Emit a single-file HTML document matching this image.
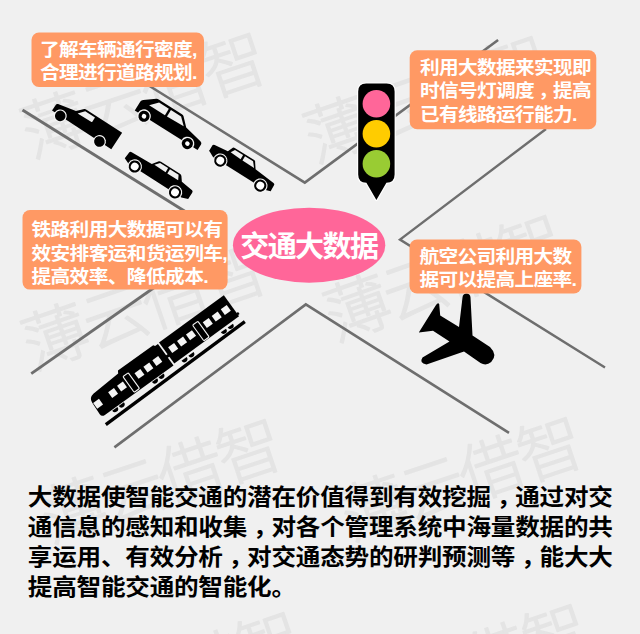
<!DOCTYPE html>
<html lang="zh-CN">
<head>
<meta charset="utf-8">
<title>交通大数据</title>
<style>
html,body{margin:0;padding:0;background:#f0f0f0;}
body{width:640px;height:634px;overflow:hidden;position:relative;}
svg{display:block;position:absolute;left:0;top:0;}
text{font-family:"Liberation Sans", "Noto Sans CJK SC", sans-serif;font-weight:700;}
.wm text{font-weight:300;fill:#e4e4e4;stroke:#e4e4e4;stroke-width:1.3px;stroke-linejoin:round;}
</style>
</head>
<body>
<svg width="640" height="634" viewBox="0 0 640 634">
<rect width="640" height="634" fill="#f0f0f0"/>

<g class="wm">
<text transform="translate(233.5,63.7) rotate(-18.5)" x="-221.5" y="24.7" font-size="65" letter-spacing="-2">薄云借智</text>
<text transform="translate(516,67) rotate(-19)" x="-221.5" y="24.7" font-size="65" letter-spacing="-2">薄云借智</text>
<text transform="translate(234,274) rotate(-19)" x="-221.5" y="24.7" font-size="65" letter-spacing="-2">薄云借智</text>
<text transform="translate(530,246) rotate(-19.5)" x="-215.5" y="24.7" font-size="65" letter-spacing="-4">薄云借智</text>
<text transform="translate(249,450) rotate(-18.5)" x="-218.5" y="24.7" font-size="65" letter-spacing="-3">薄云借智</text>
<text transform="translate(550,448) rotate(-18.5)" x="-218.5" y="24.7" font-size="65" letter-spacing="-3">薄云借智</text>
<text transform="translate(268,643) rotate(-19)" x="-218.5" y="24.7" font-size="65" letter-spacing="-3">薄云借智</text>
<text transform="translate(555,635) rotate(-19)" x="-218.5" y="24.7" font-size="65" letter-spacing="-3">薄云借智</text>
</g>
<g fill="none" stroke="#6e6e6e" stroke-linejoin="miter">
<polyline stroke-width="2.6" points="148.7,85.5 304.8,182.6 498.1,40"/>
<polyline stroke-width="2.4" points="546,129 400,239.6 605,367.5"/>
<polyline stroke-width="2.6" points="114.4,447.4 305.8,304.4 509,432.9"/>
<polyline stroke-width="3" points="22.5,110 190,214.6"/>
<polyline stroke-width="2.9" points="156,286.2 31.25,373.6"/>
</g>
<g transform="translate(60.25,115.9) rotate(33.2)"><path d="M-9.8,0 L-9.8,-7 Q-9.8,-8.4 -8.3,-8.7 L10.5,-12.6 L16.3,-18.8 Q17,-19.6 18.5,-19.6 L61,-19.8 L61,0 Z" fill="#000"/><path d="M13.2,-11.6 L18.4,-17.5 L30,-17.6 L30,-13 Q30,-12 29,-12 Z" fill="#f0f0f0"/><circle cx="0" cy="0" r="6.5" fill="#f4f4f4"/><circle cx="0" cy="0" r="5.3" fill="#000"/><circle cx="46.8" cy="0" r="6.5" fill="#f4f4f4"/><circle cx="46.8" cy="0" r="5.3" fill="#000"/></g>
<g transform="translate(144.0,116.25) rotate(32.2)"><path d="M-10.9,0 L-10.9,-10.5 Q-10.9,-12.3 -9.3,-13.3 L1.2,-21.3 Q2.2,-22 4,-22 L31,-22 Q32.6,-22 33.5,-21 L41.7,-13 L61,-9 Q63.3,-8.5 63.3,-6.5 L63.3,0 Z" fill="#000"/><polygon points="-1.5,-12 5.5,-19.6 17,-19.6 17.2,-12" fill="#f0f0f0"/><polygon points="19.5,-19.6 31.5,-19.6 39,-12.6 19.6,-12" fill="#f0f0f0"/><circle cx="0" cy="0" r="6.9" fill="#f4f4f4"/><circle cx="0" cy="0" r="5.6" fill="#000"/><circle cx="0" cy="0" r="2.3" fill="#fff"/><circle cx="51.3" cy="0" r="6.9" fill="#f4f4f4"/><circle cx="51.3" cy="0" r="5.6" fill="#000"/><circle cx="51.3" cy="0" r="2.3" fill="#fff"/></g>
<g transform="translate(134.75,166.5) rotate(32.7)"><path d="M-12.8,-1.5 L-7,0.9 L56,0.9 L62.5,-1.5 L62.5,-9 Q62.5,-10.8 61,-11 L47.9,-12.6 L44.4,-17.2 Q43.6,-18.2 42,-18.2 L19.5,-18.2 Q18,-18.2 17.5,-17.5 L13,-11.3 L-10.3,-10.4 Q-12,-10.3 -12.2,-9 Z" fill="#000"/><polygon points="15.6,-12 19.4,-16.7 28.9,-16.7 29.1,-11.8" fill="#f0f0f0"/><polygon points="31.1,-16.7 41.4,-16.7 44,-11.8 31.2,-11.7" fill="#f0f0f0"/><circle cx="0" cy="0" r="7.2" fill="#f4f4f4"/><circle cx="0" cy="0" r="6.1" fill="#000"/><circle cx="0" cy="0" r="3.9" fill="#fff"/><circle cx="47.85" cy="0" r="7.2" fill="#f4f4f4"/><circle cx="47.85" cy="0" r="6.1" fill="#000"/><circle cx="47.85" cy="0" r="3.9" fill="#fff"/></g>
<g transform="translate(220.25,160.6) rotate(32.0)"><path d="M-14.6,-2.5 L-8,0.9 L54,0.9 L59,-0.7 L50,-8 L-10,-8 Z" fill="#000"/><path d="M-14.6,-2.5 L-14.7,-8.8 Q-14.7,-10.2 -13,-10.3 L1.5,-12 L3.8,-17.6 Q4.2,-18.4 5.6,-18.4 L28.5,-18.4 Q30,-18.4 30.5,-17 L34.6,-11.3 L57,-9.3 Q58.6,-9.1 58.7,-7.5 L59,-0.7 Z" fill="#000"/><polygon points="4.4,-12.6 6.9,-16.8 16.4,-16.8 16.6,-11.9" fill="#f0f0f0"/><polygon points="18.7,-16.8 28.2,-16.8 32.6,-11.7 18.9,-11.8" fill="#f0f0f0"/><circle cx="0" cy="0" r="7.2" fill="#f4f4f4"/><circle cx="0" cy="0" r="6.1" fill="#000"/><circle cx="0" cy="0" r="3.9" fill="#fff"/><circle cx="47.2" cy="0" r="7.2" fill="#f4f4f4"/><circle cx="47.2" cy="0" r="6.1" fill="#000"/><circle cx="47.2" cy="0" r="3.9" fill="#fff"/></g>
<g>
<path d="M366.2,83.6 H386.6 Q394.6,83.6 394.6,91.6 V174.6 Q394.6,182.8 386.4,182.8 L376.4,200 L366.4,182.8 Q358.2,182.8 358.2,174.6 V91.6 Q358.2,83.6 366.2,83.6 Z" fill="#fff" stroke="#fff" stroke-width="2.4" stroke-linejoin="round"/>
<path d="M366.2,83.6 H386.6 Q394.6,83.6 394.6,91.6 V174.6 Q394.6,182.8 386.4,182.8 L376.4,200 L366.4,182.8 Q358.2,182.8 358.2,174.6 V91.6 Q358.2,83.6 366.2,83.6 Z" fill="#000"/>
<circle cx="376.4" cy="103.8" r="13.8" fill="#ff6699"/>
<circle cx="376.4" cy="133.8" r="13.8" fill="#ffcc00"/>
<circle cx="376.4" cy="163.8" r="13.8" fill="#99cc33"/>
</g>
<path fill="#000" d="M436.0,305.0 Q438.0,302.0 439.2,304.0 L440.2,315.5 L459.0,327.0 L462.5,297.5 C462.5,292.0 470.5,292.0 470.5,297.5 L472.5,335.5 L490.0,347.0 Q498.0,355.0 491.2,362.0 Q486.2,366.2 480.5,363.0 L464.0,351.5 L426.5,364.5 Q418.8,363.0 422.5,357.5 L449.5,341.5 L433.0,330.8 L418.8,332.5 Z"/>
<g transform="translate(105.8,424.7) rotate(-35.8)">
<polygon points="0,-1.7 173,-3.9 173,-0.5 0,1.7" fill="#000"/>
<path d="M5,-8.5 Q1.2,-8.5 1.2,-12 L1.8,-26 Q2.2,-31.5 8,-32.3 L40,-34.3 L41.5,-36.8 L85,-36.8 L86,-35 L89.6,-35 L89.6,-8.5 Z" fill="#000"/>
<path d="M91.3,-35.6 L171.5,-36 L171.5,-10 L91.3,-9.5 Z" fill="#000"/>
<rect x="88" y="-21" width="5" height="3" fill="#000"/>
<rect x="171" y="-14" width="2.2" height="2.5" fill="#000"/>
<rect x="2.4" y="-25" width="7.2" height="7" fill="#f4f4f4"/>
<rect x="20.9" y="-25" width="7.2" height="7" fill="#f4f4f4"/>
<rect x="31.9" y="-25" width="7.2" height="7" fill="#f4f4f4"/>
<rect x="53.4" y="-25" width="7.2" height="7" fill="#f4f4f4"/>
<rect x="64.4" y="-25" width="7.2" height="7" fill="#f4f4f4"/>
<rect x="75.4" y="-25" width="7.2" height="7" fill="#f4f4f4"/>
<rect x="95.8" y="-26.3" width="7.4" height="7" fill="#f4f4f4"/>
<rect x="106.8" y="-26.3" width="7.4" height="7" fill="#f4f4f4"/>
<rect x="117.8" y="-26.3" width="7.4" height="7" fill="#f4f4f4"/>
<rect x="138.5" y="-26.3" width="7.4" height="7" fill="#f4f4f4"/>
<rect x="149.5" y="-26.3" width="7.4" height="7" fill="#f4f4f4"/>
<rect x="160.70000000000002" y="-26.3" width="7.4" height="7" fill="#f4f4f4"/>
<rect x="42" y="-29" width="6.6" height="19.3" rx="1" fill="none" stroke="#f4f4f4" stroke-width="1.1"/>
<rect x="128.6" y="-30" width="6.6" height="19.3" rx="1" fill="none" stroke="#f4f4f4" stroke-width="1.1"/>
<path d="M13.400000000000002,-7.6 A3.2,3.4 0 0 0 19.8,-7.6 Z" fill="#000"/>
<path d="M21.400000000000002,-7.6 A3.2,3.4 0 0 0 27.8,-7.6 Z" fill="#000"/>
<path d="M62.39999999999999,-7.6 A3.2,3.4 0 0 0 68.8,-7.6 Z" fill="#000"/>
<path d="M70.39999999999999,-7.6 A3.2,3.4 0 0 0 76.8,-7.6 Z" fill="#000"/>
<path d="M98.8,-7.6 A3.2,3.4 0 0 0 105.2,-7.6 Z" fill="#000"/>
<path d="M107.3,-7.6 A3.2,3.4 0 0 0 113.7,-7.6 Z" fill="#000"/>
<path d="M147.3,-7.6 A3.2,3.4 0 0 0 153.7,-7.6 Z" fill="#000"/>
<path d="M155.8,-7.6 A3.2,3.4 0 0 0 162.2,-7.6 Z" fill="#000"/>
</g>
<rect x="31.5" y="32.5" width="172.5" height="54.5" rx="7.5" ry="7.5" fill="#ff9964"/>
<text transform="translate(40,55.9) scale(1.07,1)" font-size="18.4" fill="#fff" letter-spacing="-0.643">了解车辆通行密度,</text>
<text transform="translate(40,79.0) scale(1.07,1)" font-size="18.4" fill="#fff" letter-spacing="-0.643">合理进行道路规划.</text>
<rect x="409.7" y="50.3" width="186.59999999999997" height="78.89999999999999" rx="7.5" ry="7.5" fill="#ff9964"/>
<text transform="translate(420,73.7) scale(1.07,1)" font-size="18.4" fill="#fff" letter-spacing="-0.643">利用大数据来实现即</text>
<text transform="translate(420,97.2) scale(1.07,1)" font-size="18.4" fill="#fff" letter-spacing="-0.643">时信号灯调度<tspan dx="4">，</tspan><tspan dx="-4">提</tspan>高</text>
<text transform="translate(420,121.2) scale(1.07,1)" font-size="18.4" fill="#fff" letter-spacing="-0.643">已有线路运行能力.</text>
<rect x="22.5" y="210" width="205.1" height="79.60000000000002" rx="7.5" ry="7.5" fill="#ff9964"/>
<text transform="translate(31.4,236.1) scale(1.07,1)" font-size="18.4" fill="#fff" letter-spacing="-0.55">铁路利用大数据可以有</text>
<text transform="translate(31.4,259.6) scale(1.07,1)" font-size="18.4" fill="#fff" letter-spacing="-0.55">效安排客运和货运列车,</text>
<text transform="translate(31.4,283.3) scale(1.07,1)" font-size="18.4" fill="#fff" letter-spacing="-0.55">提高效率、降低成本.</text>
<rect x="409.5" y="239.5" width="171.89999999999998" height="54.0" rx="7.5" ry="7.5" fill="#ff9964"/>
<text transform="translate(419.5,262.8) scale(1.07,1)" font-size="18.4" fill="#fff" letter-spacing="-0.643">航空公司利用大数</text>
<text transform="translate(419.5,286.2) scale(1.07,1)" font-size="18.4" fill="#fff" letter-spacing="-0.643">据可以提高上座率.</text>
<ellipse cx="309.1" cy="245.2" rx="76.2" ry="37.5" fill="#ff6699"/>
<text transform="translate(240.3,257.2) scale(1.0,1)" font-size="29" fill="#fff" letter-spacing="-1.6">交通大数据</text>
<text transform="translate(27.8,505.4) scale(1.07,1)" font-size="23" fill="#000" letter-spacing="-0.206">大数据使智能交通的潜在价值得到有效挖掘<tspan dx="5.5">，</tspan><tspan dx="-5.5">通</tspan>过对交</text>
<text transform="translate(27.8,535.2) scale(1.07,1)" font-size="23" fill="#000" letter-spacing="-0.206">通信息的感知和收集<tspan dx="5.5">，</tspan><tspan dx="-5.5">对</tspan>各个管理系统中海量数据的共</text>
<text transform="translate(27.8,565.0) scale(1.07,1)" font-size="23" fill="#000" letter-spacing="-0.206">享运用、有效分析<tspan dx="5.5">，</tspan><tspan dx="-5.5">对</tspan>交通态势的研判预测等<tspan dx="5.5">，</tspan><tspan dx="-5.5">能</tspan>大大</text>
<text transform="translate(27.8,594.8) scale(1.07,1)" font-size="23" fill="#000" letter-spacing="-0.206">提高智能交通的智能化。</text>
</svg>
</body>
</html>
